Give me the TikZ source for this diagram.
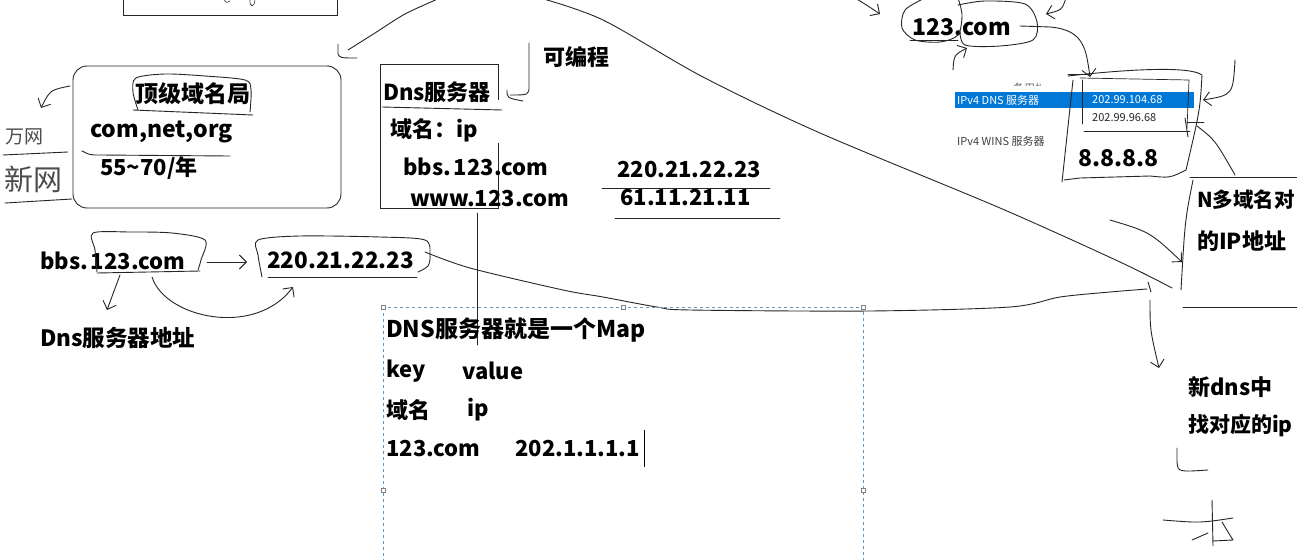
\documentclass[tikz,border=0pt]{standalone}
\usepackage{fontspec}
\setmainfont{Noto Sans CJK SC}
\usetikzlibrary{arrows.meta}
\definecolor{winblue}{HTML}{0078D7}
\definecolor{dashblue}{HTML}{5A9BC8}
\definecolor{ink}{HTML}{262626}
\begin{document}
\begin{tikzpicture}[x=1pt,y=-1pt,
  pen/.style={line width=0.9pt,draw=ink,line cap=round,line join=round},
  pentip/.style={pen,-{Straight Barb[length=7pt,width=14pt]}},
  frame/.style={line width=0.9pt,draw=black!85},
  txt/.style={font=\bfseries\fontsize{22}{26}\selectfont,inner sep=0pt,anchor=west,text=black},
  big/.style={font=\bfseries\fontsize{23}{27}\selectfont,inner sep=0pt,anchor=west,text=black},
  small/.style={font=\fontsize{11}{13}\selectfont,inner sep=0pt,anchor=west},
  hand/.style={font=\fontsize{20}{22}\selectfont,inner sep=0pt,anchor=west,text=black!70},
  handle/.style={draw=gray,fill=white,line width=0.5pt,minimum size=4pt,inner sep=0pt}]
\useasboundingbox (0,0) rectangle (1297,559);
\clip (0,0) rectangle (1297,559);
\fill[white] (0,0) rectangle (1297,559);

% ---- top-left partial box
\draw[frame] (123,-2) -- (123,15) -- (337,15) -- (337,-2);
\draw[pen,line width=0.6pt] (224,-1) .. controls (226,3) .. (230,1);
\draw[pen,line width=0.6pt] (250,-1) .. controls (249,8) and (255,8) .. (255,-1);

% ---- big curves at the top
\coordinate (a1) at (440,-2);
\coordinate (a2) at (348,50);
\draw[pen] plot[smooth] coordinates {(a1) (405,14) (375,33) (a2)};
\draw[pen] (338,44) -- (338,54) .. controls (340,58) .. (357,58);
\draw[pen] plot[smooth] coordinates {(540,-2) (603,20) (703,77) (820,133) (1000,208) (1120,262) (1172,288)};

% ---- top-level domain box
\draw[frame,rounded corners=14pt] (73,66) rectangle (341,208);
\node[big] (tld) at (135,94) {顶级域名局};
\draw[pen] plot[smooth] coordinates {(138,110) (133,92) (136,78) (165,74) (205,76) (245,80) (251,90) (250,112)};
\draw[pen] (133,110) -- (253,115);
\node[big] (cno) at (90,132) {com,net,org};
\draw[pen] (82,151) .. controls (90,155) .. (100,155) -- (230,156);
\node[txt] (price) at (100,168) {55\textasciitilde70/年};
\coordinate (l1) at (70,86);
\coordinate (l2) at (41,108);
\draw[pentip] (l1) .. controls (50,90) .. (l2);
\node[hand,font=\fontsize{19}{21}\selectfont] (wan) at (5,137) {万网};
\draw[pen] (3,155) -- (68,152);
\node[hand,font=\fontsize{29}{31}\selectfont] (xin) at (4,179) {新网};
\draw[pen] (5,203) -- (72,199);

% ---- Dns server box
\draw[frame,line width=0.7pt] (498,100) -- (498,64) -- (380,64) -- (380,208) -- (498,208) -- (498,143);
\node[txt] (dns) at (383,92) {Dns服务器};
\draw[pen] (382,107) -- (502,110);
\node[txt] (kv) at (390,130) {域名：ip};
\node[txt] (bbs) at (403,167) {bbs.\hspace{3pt}123.com};
\node[txt] (www) at (410,199) {www.123.com};
\node[txt] (ip1) at (617,170) {220.21.22.23};
\node[txt] (ip2) at (620,198) {61.11.21.11};
\draw[pen] (602,188) -- (770,188);
\draw[pen] (615,218) -- (780,218);
\node[txt] (prog) at (543,57) {可编程};
\draw[pen] (529,43) -- (529,86) .. controls (529,95) .. (510,95);
\draw[pen] (507,90) .. controls (507,98) .. (523,101);
\draw[pen] (477,213) -- (477,345);

% ---- bottom-left flow
\node[txt] (bbs2) at (40,261) {bbs.\hspace{3pt}123.com};
\draw[pen] plot[smooth] coordinates {(97,272) (95,250) (93,233) (130,232) (172,233) (205,240) (201,260) (198,270)};
\draw[pen] (97,273) -- (200,271);
\node[txt,font=\bfseries\fontsize{22.5}{26}\selectfont] (ipb) at (267,260) {220.21.22.23};
\draw[pen] plot[smooth] coordinates {(262,277) (258,255) (258,240) (300,236) (380,237) (425,240) (430,255) (428,266) (418,272)};
\draw[pen] (268,277) -- (417,277);
\draw[pentip] (207,262) -- (247,262);
\draw[pentip] (120,275) -- (107,310);
\draw[pentip] (152,277) .. controls (165,318) and (255,338) .. (293,287);
\node[txt,font=\bfseries\fontsize{22.5}{26}\selectfont] (addr) at (40,338) {Dns服务器地址};

% long curve from 220.21.22.23 to the right
\draw[pen] plot[smooth] coordinates {(425,252) (470,268) (563,290) (603,297) (657,307) (690,310) (870,311) (1010,307) (1060,297) (1110,292) (1147,289)};
\draw[pen] (1148,282) -- (1151,292);
\draw[pentip] (1150,300) .. controls (1150,330) .. (1159,368);

% ---- dashed text box
\draw[dashblue,dashed,line width=0.6pt] (383,307) rectangle (863,575);
\foreach \p in {(383,307),(623,307),(863,307),(383,490),(863,490)}
  \node[handle] at \p {};
\node[txt,font=\bfseries\fontsize{23}{27}\selectfont] (map) at (386,330) {DNS服务器就是一个Map};
\node[txt] (key) at (386,371) {key};
\node[txt] (val) at (462,371) {value};
\node[txt] (dom) at (386,410) {域名};
\node[txt] (ipk) at (467,410) {ip};
\node[txt] (c123) at (386,449) {123.com};
\node[txt] (ip3) at (515,449) {202.1.1.1.1};
\draw[line width=0.8pt] (644,430) -- (644,467);

% ---- 123.com at top right
\node[big] (top) at (912,27) {123.com};
\draw[pen] plot[smooth] coordinates {(925,-2) (905,10) (902,28) (915,40) (940,42) (958,35) (962,15) (958,-2)};
\draw[pen] plot[smooth] coordinates {(958,5) (985,1) (1025,4) (1037,22) (1033,40) (1000,46) (965,45) (960,30)};
\draw[pen] (910,40) -- (958,40);
\draw[pentip] (852,-4) .. controls (868,6) .. (880,14);
\draw[pentip] (1066,-2) .. controls (1062,10) .. (1046,14);
\draw[pentip] (953,70) .. controls (954,55) .. (967,48);
\draw[pentip] (1020,26) -- (1050,27) .. controls (1085,30) and (1086,50) .. (1090,77);

% ---- network settings fragment and 8.8.8.8 box
\fill[winblue] (955,92) rectangle (1194,108);
\node[small,text=white] (ipv4) at (957,100) {IPv4 DNS 服务器};
\node[small,text=white] (d1) at (1092,100) {202.99.104.68};
\node[small,text=black!85] (d2) at (1092,118) {202.99.96.68};
\begin{scope}
  \clip (950,133) rectangle (1060,146);
  \node[small,text=black!75] (wins) at (957,141) {IPv4 WINS 服务器};
\end{scope}
\begin{scope}
  \clip (1000,82) rectangle (1040,86);
  \node[small,text=black!60] at (1013,88) {备用地址};
\end{scope}
\draw[pen,line width=0.7pt] (1068,74) -- (1090,74);
\draw[pen,line width=0.7pt] (1080,78) -- (1189,80) -- (1187,128);
\draw[pen,line width=0.7pt] (1082,80) -- (1082,124);
\draw[pen,line width=0.7pt] (1084,131) -- (1190,131);
\draw[pen] (1073,80) -- (1062,182);
\draw[pen] (1068,76) .. controls (1130,69) and (1190,66) .. (1202,75) .. controls (1200,110) .. (1186,170) .. controls (1170,178) .. (1150,176) -- (1080,178) -- (1064,180);
\node[big] (g8) at (1078,158) {8.8.8.8};
\draw[pen] (1187,122) -- (1204,122);
\draw[pen] (1185,118) -- (1188,137);
\draw[pen] (1197,126) .. controls (1215,140) .. (1235,175);
\draw[pentip] (1235,60) .. controls (1233,95) .. (1203,100);

% ---- right column
\draw[pen] (1190,177) -- (1297,177);
\draw[pen] (1193,180) .. controls (1185,220) .. (1181,290);
\draw[pentip] (1110,220) .. controls (1150,232) .. (1182,262);
\draw[pen] (1183,307) -- (1297,307);
\node[txt,font=\bfseries\fontsize{20.5}{24}\selectfont] (nmany) at (1197,200) {N多域名对};
\node[txt] (nip) at (1197,241) {的IP地址};
\node[txt] (newdns) at (1188,387) {新dns中};
\node[txt,font=\bfseries\fontsize{21}{25}\selectfont] (find) at (1188,426) {找对应的ip};
\draw[pen] (1177,448) -- (1177,462) .. controls (1178,472) .. (1208,470);
\draw[pen] (1212,500) -- (1213,546);
\draw[pen] (1163,520) .. controls (1200,523) .. (1233,518);
\draw[pen] (1192,540) -- (1208,533);
\draw[pen] (1222,522) .. controls (1228,532) .. (1233,540) -- (1213,541);
\end{tikzpicture}
\end{document}
